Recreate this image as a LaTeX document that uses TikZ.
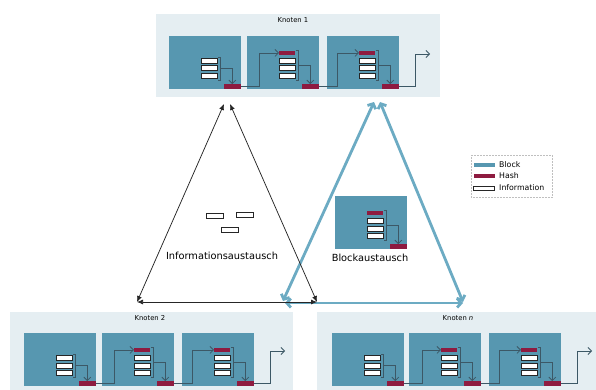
\documentclass[tikz,border=0pt]{standalone}
\usepackage{fontspec}
\setmainfont{DejaVu Sans}
\usetikzlibrary{arrows.meta}
\definecolor{panelc}{HTML}{E5EEF2}
\definecolor{blockc}{HTML}{5797B0}
\definecolor{hashc}{HTML}{8E1B40}
\definecolor{linec}{HTML}{3C5866}
\definecolor{trib}{HTML}{6CABC3}
\tikzset{
  panel/.style={fill=panelc, draw=none, inner sep=0, anchor=north west},
  blk/.style={fill=blockc, inner sep=0, minimum width=72pt, minimum height=53pt, anchor=north west},
  hash/.style={fill=hashc, inner sep=0, minimum width=17pt, minimum height=5pt},
  info/.style={fill=white, draw=black!85, line width=0.7pt, inner sep=0, minimum width=16pt, minimum height=5pt, anchor=north west},
  flow/.style={draw=linec, line width=0.75pt, -{Straight Barb[length=3.5pt,width=7pt]}},
  brk/.style={draw=linec, line width=0.5pt},
  itri/.style={draw=black!85, line width=0.75pt, {Latex[length=6pt,width=5pt]}-{Latex[length=6pt,width=5pt]}},
  btri/.style={draw=trib, line width=2.8pt, {Straight Barb[length=4pt,width=9pt]}-{Straight Barb[length=4pt,width=9pt]}},
  lbl/.style={font=\fontsize{6.8}{8}\selectfont, inner sep=0},
  big/.style={font=\fontsize{9.8}{11}\selectfont, inner sep=0},
  legt/.style={font=\fontsize{7.8}{9}\selectfont, inner sep=0, anchor=west},
}
\newcommand\blkdraw[4]{%
  \begin{scope}[shift={(#2,#3)}]
    \node[blk] (#1) at (0,0) {};
    \node[hash, anchor=south east] (#1h) at (72,53.5) {};
    \ifnum#4=1
      \node[hash, anchor=north west, minimum width=16pt, minimum height=4.5pt] (#1t) at (32,14.5) {};
      \def\brt{14}%
    \else
      \def\brt{21}%
    \fi
    \node[info] (#1a) at (32,22) {};
    \node[info] (#1b) at (32,29.5) {};
    \node[info] (#1c) at (32,37) {};
    \draw[brk] (49,\brt) -- (51,\brt) -- (51,44) -- (49,44);
    \coordinate (#1m) at (51,{(\brt+44)/2});
    \draw[flow] (#1m) -| (#1h.north);
    \coordinate (#1o) at (103,18);
  \end{scope}}
\newcommand\chainthree[1]{%
  \draw[flow] (#11h.east) -- ++(18,0) |- (#12t.west);
  \draw[flow] (#12h.east) -- ++(18,0) |- (#13t.west);
  \draw[flow] (#13h.east) -- ++(16,0) |- (#13o);}
\begin{document}
\begin{tikzpicture}[x={(1pt,0)}, y={(0,-1pt)}]
\useasboundingbox (0,0) rectangle (596,390);
% panels
\node[panel, minimum width=284pt, minimum height=83pt] (k1) at (156,14) {};
\node[panel, minimum width=283pt, minimum height=80pt] (k2) at (10,312) {};
\node[panel, minimum width=279pt, minimum height=80pt] (kn) at (317,312) {};
\node[lbl] (k1l) at (293,20.5) {Knoten 1};
\node[lbl] (k2l) at (150,318.5) {Knoten 2};
\node[lbl] (knl) at (458,318.5) {Knoten \textit{n}};
% Knoten 1
\blkdraw{ka1}{169}{36}{0}
\blkdraw{ka2}{247}{36}{1}
\blkdraw{ka3}{327}{36}{1}
\chainthree{ka}
% Knoten 2
\blkdraw{kb1}{24}{333}{0}
\blkdraw{kb2}{102}{333}{1}
\blkdraw{kb3}{182}{333}{1}
\chainthree{kb}
% Knoten n
\blkdraw{kc1}{332}{333}{0}
\blkdraw{kc2}{409}{333}{1}
\blkdraw{kc3}{489}{333}{1}
\chainthree{kc}
% exchanged block
\blkdraw{bx}{335}{196}{1}
% blue triangle
\coordinate (bA) at (374,102);
\coordinate (bB) at (380,102);
\coordinate (bL) at (283,301);
\coordinate (bR) at (463,302);
\coordinate (bL2) at (285,303);
\coordinate (bR2) at (463,303);
\draw[btri] (bL) -- (bA);
\draw[btri] (bB) -- (bR);
\draw[btri] (bL2) -- (bR2);
% black triangle
\coordinate (iA) at (224,104);
\coordinate (iB) at (230,104);
\coordinate (iL) at (137,302);
\coordinate (iR) at (317,302);
\draw[itri] (iL) -- (iA);
\draw[itri] (iB) -- (iR);
\draw[itri] (iL) -- (iR);
% info exchange
\node[info, minimum width=17pt] (x1) at (206,213) {};
\node[info, minimum width=17pt] (x2) at (236,212) {};
\node[info, minimum width=17pt] (x3) at (221,227) {};
\node[big] (itxt) at (222,256) {Informationsaustausch};
\node[big] (btxt) at (370,258) {Blockaustausch};
% legend
\node[draw=gray!50, densely dotted, line width=0.5pt, anchor=north west, minimum width=81pt, minimum height=42pt, inner sep=0] (leg) at (471,155) {};
\node[fill=blockc, inner sep=0, minimum width=21pt, minimum height=4pt] (lb) at (484,165) {};
\node[fill=hashc, inner sep=0, minimum width=21pt, minimum height=4pt] (lh) at (484,176) {};
\node[draw=black!85, fill=white, line width=0.6pt, inner sep=0, minimum width=21pt, minimum height=4pt] (li) at (484,188) {};
\node[legt] (lbt) at (499,165) {Block};
\node[legt] (lht) at (499,176) {Hash};
\node[legt] (lit) at (499,188) {Information};
\end{tikzpicture}
\end{document}
